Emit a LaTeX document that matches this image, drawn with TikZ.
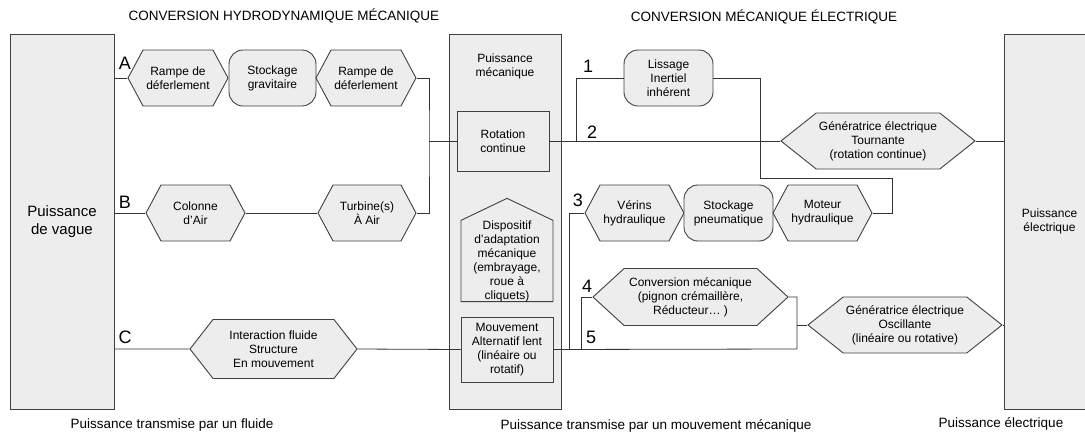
\documentclass[tikz,border=0pt]{standalone}
\usepackage{fontspec}
\setmainfont{Liberation Sans}
\usetikzlibrary{shapes.symbols}
\begin{document}
\begin{tikzpicture}[x=1pt,y=-1pt]
      \tikzset{every node/.style={font=\fontsize{12}{14}\selectfont,align=center,inner sep=0pt},
        block/.style={draw=black!75,fill=black!7,line width=0.9pt},
        hexa/.style={block,signal,signal from=nowhere,signal to=west and east,minimum height=56pt,signal pointer angle=123.6},
        rbox/.style={block,rounded corners=14pt,minimum height=56pt},
        wire/.style={draw=black!80,line width=0.8pt},
        tag/.style={font=\fontsize{18}{18}\selectfont},
        title/.style={font=\fontsize{13.5}{16}\selectfont}}
      \useasboundingbox (0,0) rectangle (1085,437);
      \node[block,minimum width=104pt,minimum height=375pt,font=\fontsize{15}{18}\selectfont] (vague) at (62,221.5) {Puissance\\de vague};
      \node[block,minimum width=112pt,minimum height=375pt] (meca) at (505,221.5) {};
      \node[block,minimum width=91pt,minimum height=375pt] (elec) at (1049.5,221.5) {Puissance\\électrique};
      \node (pmeca) at (505,66) {Puissance\\mécanique};
      \node[hexa,minimum width=100pt] (rampeA) at (178,78) {Rampe de\\déferlement};
      \node[rbox,minimum width=87pt] (gravi) at (272.5,78) {Stockage\\gravitaire};
      \node[hexa,minimum width=100pt] (rampeB) at (366,78) {Rampe de\\déferlement};
      \node[hexa,minimum width=99pt] (colonne) at (195.5,213) {Colonne\\d'Air};
      \node[hexa,minimum width=98pt] (turbine) at (367,213) {Turbine(s)\\À Air};
      \node[hexa,minimum width=167pt,minimum height=59pt,signal pointer angle=104] (fluide) at (273.5,349) {Interaction fluide\\Structure\\En mouvement};
      \node[block,minimum width=92pt,minimum height=60pt] (rotation) at (503,141) {Rotation\\continue};
      \node[block,signal,signal from=nowhere,signal to=north,minimum width=92pt,minimum height=84pt,signal pointer angle=128.8,anchor=south] (adapt) at (507,302) {Dispositif\\d'adaptation\\mécanique\\(embrayage,\\roue à\\cliquets)};
      \node[block,minimum width=92pt,minimum height=65pt] (mouvement) at (507,349.5) {Mouvement\\Alternatif lent\\(linéaire ou\\rotatif)};
      \node[rbox,minimum width=89pt] (lissage) at (668.5,78) {Lissage\\Inertiel\\inhérent};
      \node[hexa,minimum width=194pt,signal pointer angle=77] (tournante) at (878,141) {Génératrice électrique\\Tournante\\(rotation continue)};
      \node[hexa,minimum width=99pt] (verins) at (634.5,213) {Vérins\\hydraulique};
      \node[rbox,minimum width=89pt] (pneu) at (728.5,213) {Stockage\\pneumatique};
      \node[hexa,minimum width=99pt] (moteur) at (822.5,213) {Moteur\\hydraulique};
      \node[hexa,minimum width=195pt,minimum height=57pt,signal pointer angle=85] (conversion) at (690.5,297) {Conversion mécanique\\(pignon crémaillère,\\Réducteur… )};
      \node[hexa,minimum width=194pt,signal pointer angle=77] (oscillante) at (905,325) {Génératrice électrique\\Oscillante\\(linéaire ou rotative)};
      \coordinate (jA) at (429,141);
      \coordinate (j2) at (576,141);
      \coordinate (k1) at (760,178);
      \coordinate (k2) at (892,178);
      \coordinate (j3) at (569,349);
      \coordinate (j4) at (581,349);
      \coordinate (j5) at (797,349);
      \draw[wire] (vague.east |- rampeA.west) -- (rampeA.west);
      \draw[wire] (rampeB.east) -| (jA) |- (turbine.east);
      \draw[wire] (jA) -- (rotation.west);
      \draw[wire] (vague.east |- colonne.west) -- (colonne.west) (colonne.east) -- (turbine.west);
      \draw[wire] (vague.east |- fluide.west) -- (fluide.west) (fluide.east) -- (mouvement.west);
      \draw[wire] (rotation.east) -- (tournante.west) (tournante.east) -- (elec.west |- tournante.east);
      \draw[wire] (j2) |- (lissage.west);
      \draw[wire] (lissage.east) -| (k1) -- (k2) |- (moteur.east);
      \draw[wire] (mouvement.east) -- (j5) |- (conversion.east);
      \draw[wire] (j5 |- oscillante.west) -- (oscillante.west) (oscillante.east) -- (elec.west |- oscillante.east);
      \draw[wire] (j3) |- (verins.west);
      \draw[wire] (j4) |- (conversion.west);
      \node[tag] (tA) at (125,63) {A};
      \node[tag] (tB) at (125,202) {B};
      \node[tag] (tC) at (125,337) {C};
      \node[tag] (t1) at (588,66) {1};
      \node[tag] (t2) at (592,132) {2};
      \node[tag] (t3) at (578,200) {3};
      \node[tag] (t4) at (587,286) {4};
      \node[tag] (t5) at (591,337) {5};
      \node[title] (hydro) at (284,16) {CONVERSION HYDRODYNAMIQUE MÉCANIQUE};
      \node[title] (elect) at (764,17) {CONVERSION MÉCANIQUE ÉLECTRIQUE};
      \node[title] (fluid) at (172,425) {Puissance transmise par un fluide};
      \node[title] (mouv) at (656,426) {Puissance transmise par un mouvement mécanique};
      \node[title] (pel) at (1001,424) {Puissance électrique};
    \end{tikzpicture}
\end{document}
